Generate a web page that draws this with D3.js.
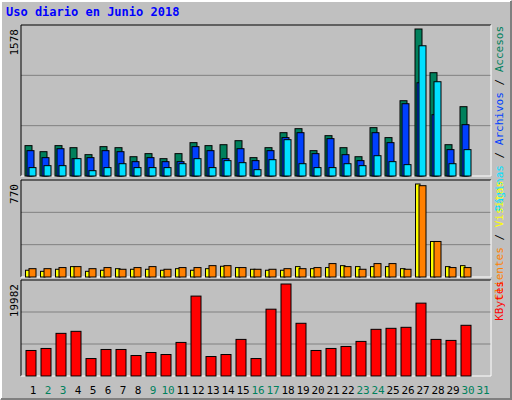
<!DOCTYPE html><html><head><meta charset="utf-8">
<script src="https://cdn.jsdelivr.net/npm/d3@7"></script>
<style>body{margin:0;background:#fff}</style></head><body><svg id="c" width="512" height="400"></svg>
<script>
const days=d3.range(1,32);
const weekend=[2,3,9,10,16,17,23,24,30,31];
const hits=[326,261,326,304,229,315,304,207,240,186,240,358,326,336,379,197,304,465,508,272,433,304,207,519,412,808,1578,1109,336,744,0];
const files=[272,197,293,186,197,272,261,154,197,154,154,315,272,186,293,165,272,412,465,240,401,229,165,465,358,776,1001,658,283,551,0];
const pages=[90,111,111,186,57,90,132,90,90,90,132,186,90,165,143,68,175,390,132,90,90,132,111,218,154,122,1398,1012,132,283,0];
const visits=[56,47,64,86,47,56,69,64,64,56,69,56,69,89,78,64,56,56,86,69,78,94,86,86,86,69,770,294,86,94,0];
const sites=[69,69,78,86,69,78,64,78,86,64,78,78,94,94,78,64,64,69,69,78,111,86,64,111,111,64,756,294,78,78,0];
const kbytes=[5543,5981,9263,9700,3792,5762,5762,4449,5105,4668,7293,17356,4230,4668,7949,3792,14512,19982,11450,5543,5981,6418,7512,10137,10356,10575,15825,7949,7731,11013,0];
const maxLabels=["1578","770","19982"];
const svg=d3.select("#c");
svg.append("rect").attr("width",512).attr("height",400).attr("fill","#c0c0c0");
svg.append("path").attr("d","M1,399V1H511").attr("stroke","#fff").attr("fill","none").attr("stroke-width",2);
svg.append("path").attr("d","M1,399H511V1").attr("stroke","#808080").attr("fill","none").attr("stroke-width",2);
svg.append("text").attr("x",6).attr("y",16).text("Uso diario en Junio 2018").attr("font-family","DejaVu Sans Mono").attr("font-weight","bold").attr("font-size",12).attr("fill","#0000ff");
const x=d3.scaleLinear().domain([1,2]).range([25,40]);
function panel(top,bottom,maxV,topPx,label,series,legend){
  svg.append("rect").attr("x",21).attr("y",top).attr("width",470).attr("height",bottom-top).attr("fill","#c0c0c0");
  const h=(bottom-top)/3;
  [1,2].forEach(i=>svg.append("line").attr("x1",21).attr("x2",491).attr("y1",top+h*i).attr("y2",top+h*i).attr("stroke","#808080"));
  svg.append("path").attr("d",`M21,${bottom}V${top}H491`).attr("stroke","#000").attr("fill","none");
  svg.append("path").attr("d",`M21,${bottom}H491V${top}`).attr("stroke","#fff").attr("fill","none");
  const y=d3.scaleLinear().domain([0,maxV]).range([bottom,topPx]);
  series.forEach(s=>{
    svg.append("g").selectAll("rect").data(days.filter((d,i)=>s.v[i]>0)).join("rect")
      .attr("x",d=>x(d)+s.off).attr("width",s.w).attr("y",d=>y(s.v[d-1])).attr("height",d=>bottom-y(s.v[d-1]))
      .attr("fill",s.c).attr("stroke","#000").attr("stroke-width",1);
  });
  svg.append("text").attr("transform",`translate(18,${top+4}) rotate(-90)`).attr("text-anchor","end")
    .attr("font-family","DejaVu Sans Mono").attr("font-size",11).text(label);
  const t=svg.append("text").attr("transform",`translate(503,${top+1}) rotate(-90)`).attr("text-anchor","end")
    .attr("font-family","DejaVu Sans Mono").attr("font-size",11);
  legend.forEach(l=>t.append("tspan").attr("fill",l[1]).text(l[0]));
}
panel(25,176,1578,29,maxLabels[0],[{v:hits,c:"#00805c",off:0,w:7},{v:files,c:"#0040ff",off:2,w:7},{v:pages,c:"#00e0ff",off:4,w:7}],
  [["Páginas","#00e0ff"],[" / ","#000"],["Archivos","#0040ff"],[" / ","#000"],["Accesos","#00805c"]]);
panel(180,277,770,184,maxLabels[1],[{v:visits,c:"#ffff00",off:0.5,w:4.5},{v:sites,c:"#ff8000",off:4,w:7}],
  [["Clientes","#ff8000"],[" / ","#000"],["Visitas","#ffff00"]]);
panel(280,376,19982,284,maxLabels[2],[{v:kbytes,c:"#ff0000",off:1,w:10}],[["KBytes","#ff0000"]]);
svg.append("g").selectAll("text").data(days).join("text").attr("x",d=>x(d)+8).attr("y",394).attr("text-anchor","middle")
  .attr("font-family","DejaVu Sans Mono").attr("font-size",11).attr("fill",d=>weekend.includes(d)?"#00805c":"#000").text(d=>d);
</script></body></html>
